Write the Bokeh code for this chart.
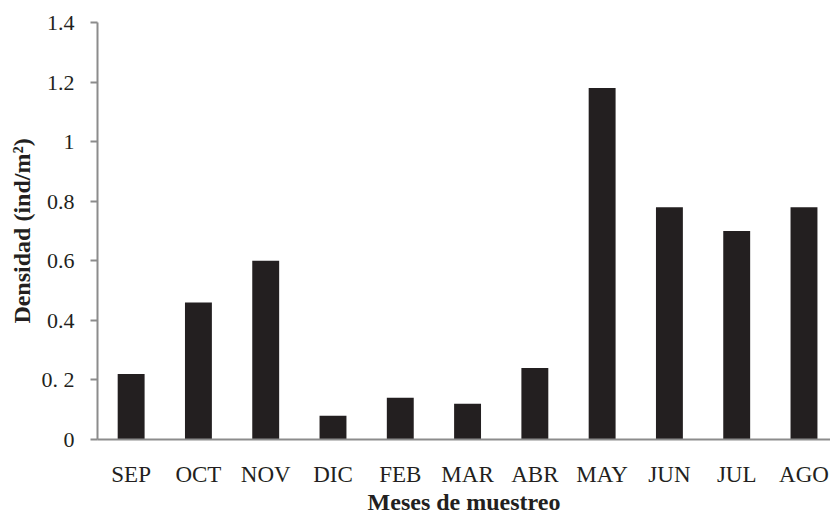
from bokeh.plotting import figure
from bokeh.models import Range1d, FixedTicker, ColumnDataSource
from bokeh.embed import file_html
from bokeh.resources import INLINE

months = ["SEP", "OCT", "NOV", "DIC", "FEB", "MAR", "ABR", "MAY", "JUN", "JUL", "AGO"]
density = [0.22, 0.46, 0.60, 0.08, 0.14, 0.12, 0.24, 1.18, 0.78, 0.70, 0.78]
y_ticks = [0, 0.2, 0.4, 0.6, 0.8, 1.0, 1.2, 1.4]
y_tick_labels = ["0", "0. 2", "0.4", "0.6", "0.8", "1", "1.2", "1.4"]

xpos = [i + 0.5 for i in range(len(months))]
src = ColumnDataSource(dict(x=xpos, top=density, m=months))

p = figure(width=830, height=517, output_backend="svg", toolbar_location=None,
           x_range=Range1d(0, 10.894), y_range=Range1d(0, 1.4),
           min_border_left=97, min_border_right=0, min_border_top=22, min_border_bottom=78)
p.outline_line_color = None
p.xgrid.visible = False
p.ygrid.visible = False
p.background_fill_color = "white"
p.border_fill_color = "white"

p.vbar(x="x", top="top", width=0.4, source=src, fill_color="#231f20", line_color=None)

font = "Liberation Serif"
axis_color = "#8c8c8c"
text_color = "#231f20"

p.xaxis.ticker = FixedTicker(ticks=xpos)
p.xaxis.major_label_overrides = {x: m for x, m in zip(xpos, months)}
p.xaxis.major_tick_line_color = None
p.xaxis.minor_tick_line_color = None
p.xaxis.axis_line_color = axis_color
p.xaxis.axis_line_width = 2
p.xaxis.major_label_standoff = 16
p.xaxis.major_label_text_font = font
p.xaxis.major_label_text_font_size = "23px"
p.xaxis.major_label_text_color = text_color
p.xaxis.axis_label = "Meses de muestreo"
p.xaxis.axis_label_text_font = font
p.xaxis.axis_label_text_font_style = "bold"
p.xaxis.axis_label_text_font_size = "24px"
p.xaxis.axis_label_text_color = text_color
p.xaxis.axis_label_standoff = -1

p.yaxis.ticker = FixedTicker(ticks=y_ticks)
p.yaxis.major_label_overrides = {t: l for t, l in zip(y_ticks, y_tick_labels)}
p.yaxis.minor_tick_line_color = None
p.yaxis.major_tick_in = 0
p.yaxis.major_tick_out = 7
p.yaxis.major_tick_line_color = axis_color
p.yaxis.major_tick_line_width = 2
p.yaxis.axis_line_color = axis_color
p.yaxis.axis_line_width = 2
p.yaxis.major_label_standoff = 16
p.yaxis.major_label_text_font = font
p.yaxis.major_label_text_font_size = "22px"
p.yaxis.major_label_text_color = text_color
p.yaxis.axis_label = "Densidad (ind/m²)"
p.yaxis.axis_label_text_font = font
p.yaxis.axis_label_text_font_style = "bold"
p.yaxis.axis_label_text_font_size = "24px"
p.yaxis.axis_label_text_color = text_color
p.yaxis.axis_label_standoff = 4

open("out.html", "w").write(file_html(p, INLINE))
